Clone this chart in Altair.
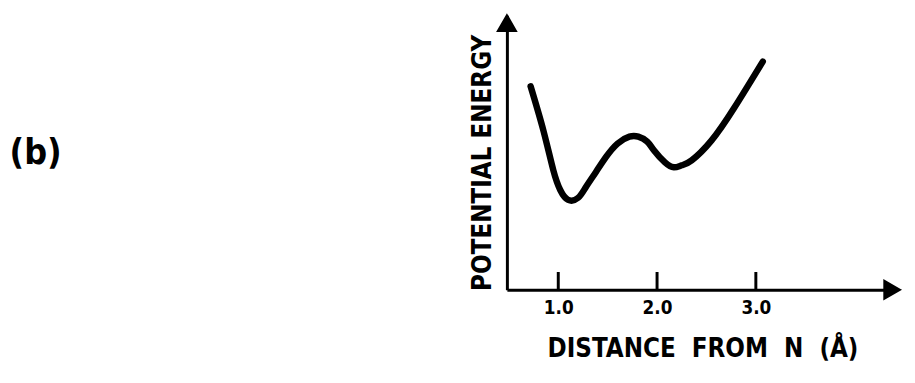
import altair as alt
import pandas as pd

# Curve: distance from N (Å) vs potential energy (arbitrary units)
distance = [0.72, 0.85, 0.95, 1.02, 1.10, 1.20, 1.28, 1.38, 1.48, 1.60, 1.72, 1.81,
            1.90, 1.97, 2.08, 2.17, 2.25, 2.35, 2.55, 2.78, 3.07]
energy = [2.06, 1.61, 1.21, 1.01, 0.91, 0.93, 1.04, 1.19, 1.34, 1.48, 1.55, 1.55,
          1.50, 1.41, 1.29, 1.24, 1.26, 1.31, 1.51, 1.84, 2.31]
tick_values = [1.0, 2.0, 3.0]
x_domain = [0.48, 4.43]
y_domain = [0.0, 2.78]
panel_label = "(b)"
x_title = "DISTANCE\u00a0 FROM\u00a0 N\u00a0 (Å)"
y_title = "POTENTIAL ENERGY"

FONT = "DejaVu Sans Condensed, DejaVu Sans, sans-serif"

curve_df = pd.DataFrame({"d": distance, "e": energy})
ticks_df = pd.DataFrame({"d": tick_values, "e0": [0.0] * 3, "e1": [0.18] * 3})
yarrow_df = pd.DataFrame({"d": [x_domain[0]], "e": [y_domain[1] - 0.08]})
xarrow_df = pd.DataFrame({"d": [x_domain[1] - 0.05], "e": [0.0]})
label_df = pd.DataFrame({"t": [panel_label]})

xs = alt.Scale(domain=x_domain, nice=False, zero=False)
ys = alt.Scale(domain=y_domain, nice=False, zero=False)

x_axis = alt.Axis(values=tick_values, format=".1f", ticks=False, grid=False,
                  domain=True, domainColor="black", domainWidth=3,
                  labelFont=FONT, labelFontSize=19, labelFontWeight="bold",
                  labelColor="black", labelPadding=9,
                  title=x_title, titleFont=FONT, titleFontSize=26,
                  titleFontWeight="bold", titleColor="black",
                  titleX=198, titleY=60, titleBaseline="middle", titleAlign="center")
y_axis = alt.Axis(labels=False, ticks=False, grid=False,
                  domain=True, domainColor="black", domainWidth=3,
                  title=y_title, titleFont=FONT, titleFontSize=26,
                  titleFontWeight="bold", titleColor="black",
                  titleX=-25, titleY=149, titleBaseline="middle", titleAlign="center",
                  titleAngle=270)

curve = alt.Chart(curve_df).mark_line(
    color="black", strokeWidth=6.5, strokeCap="round", strokeJoin="round",
    interpolate="natural"
).encode(
    x=alt.X("d:Q", scale=xs, axis=x_axis),
    y=alt.Y("e:Q", scale=ys, axis=y_axis),
)

ticks = alt.Chart(ticks_df).mark_rule(color="black", strokeWidth=3).encode(
    x=alt.X("d:Q", scale=xs),
    y=alt.Y("e0:Q", scale=ys),
    y2="e1:Q",
)

yarrow = alt.Chart(yarrow_df).mark_point(
    shape="triangle-up", filled=True, fill="black", stroke="black",
    opacity=1, size=340
).encode(x=alt.X("d:Q", scale=xs), y=alt.Y("e:Q", scale=ys))

xarrow = alt.Chart(xarrow_df).mark_point(
    shape="triangle-right", filled=True, fill="black", stroke="black",
    opacity=1, size=340
).encode(x=alt.X("d:Q", scale=xs), y=alt.Y("e:Q", scale=ys))

label = alt.Chart(label_df).mark_text(
    font=FONT, fontSize=36, fontWeight="bold", color="black",
    align="center", baseline="middle"
).encode(text="t:N", x=alt.value(-477), y=alt.value(140))

chart = alt.layer(curve, ticks, yarrow, xarrow, label).properties(
    width=395, height=278,
    autosize=alt.AutoSizeParams(type="none"),
    padding={"left": 505, "top": 5, "right": 10, "bottom": 80},
    background="white",
).configure_view(stroke=None)

chart.save("out.html", embed_options={"renderer": "svg", "actions": False})
